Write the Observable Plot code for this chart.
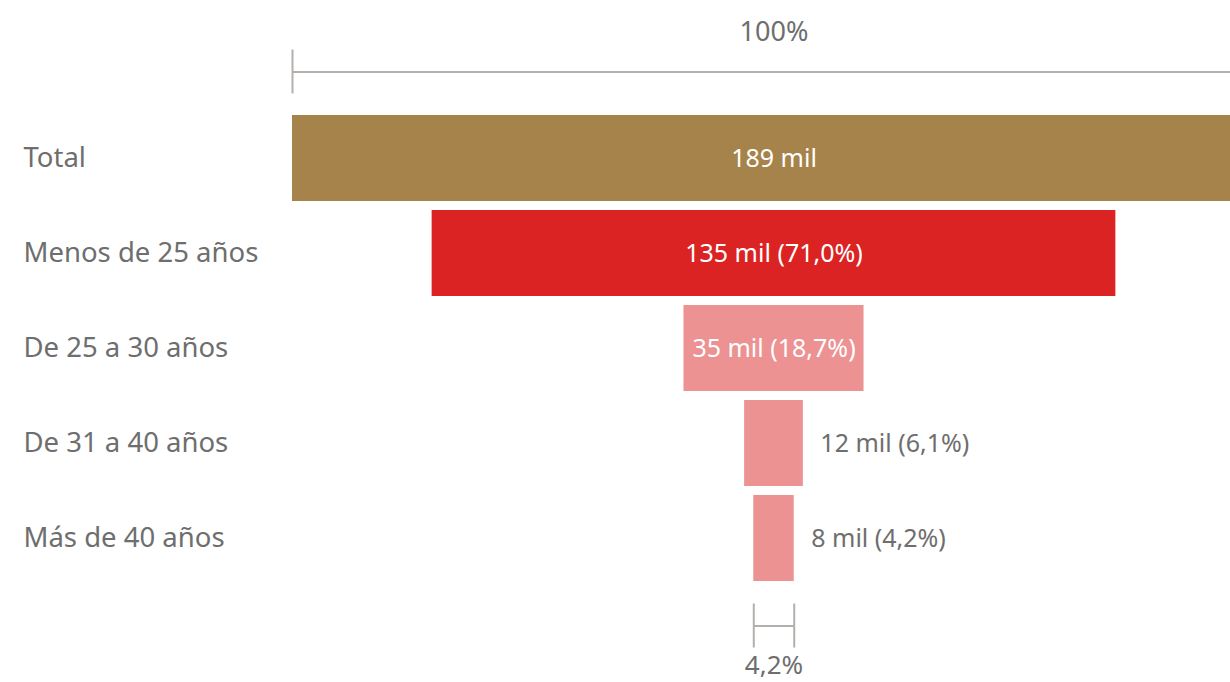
<!DOCTYPE html>
<html>
<head>
<meta charset="utf-8">
<script src="https://cdn.jsdelivr.net/npm/d3@7"></script>
<script src="https://cdn.jsdelivr.net/npm/@observablehq/plot@0.6"></script>
<style>
  html, body { margin: 0; padding: 0; background: #fff; overflow: hidden; }
  #chart svg { display: block; overflow: hidden; }
</style>
</head>
<body>
<div id="chart"></div>
<script>
const categories = ["Total", "Menos de 25 años", "De 25 a 30 años", "De 31 a 40 años", "Más de 40 años"];
const valuesMil = [189, 135, 35, 12, 8];
const percents = [100, 71.0, 18.7, 6.1, 4.2];
const colors = ["#A6834A", "#DB2323", "#EC9292", "#EC9292", "#EC9292"];
const topLabel = "100%";
const bottomLabel = "4,2%";

const fmtPct = p => p.toFixed(1).replace(".", ",") + "%";
const data = categories.map((c, i) => ({
  cat: c,
  value: valuesMil[i],
  pct: percents[i],
  color: colors[i],
  label: i === 0 ? `${valuesMil[i]} mil` : `${valuesMil[i]} mil (${fmtPct(percents[i])})`,
  inside: percents[i] > 15
}));
const last = data[data.length - 1];
const font = "'Noto Sans', 'Open Sans', sans-serif";
const gray = "#6e6e6e";
const lineGray = "#b3b0ac";

const chart = Plot.plot({
  width: 1230,
  height: 682,
  marginLeft: 23,
  marginRight: 0,
  marginTop: 0,
  marginBottom: 0,
  style: { fontFamily: font, background: "#fff" },
  x: { domain: [-0.5, 0.5], range: [292, 1255], axis: null },
  y: { type: "band", domain: categories, range: [104.5, 590.3], padding: 0.1, axis: null },
  marks: [
    Plot.barX(data, { y: "cat", x1: d => -d.pct / 200, x2: d => d.pct / 200, fill: "color" }),
    // category labels
    Plot.text(data, { y: "cat", text: "cat", frameAnchor: "left", textAnchor: "start", fontSize: 27.5, fill: gray }),
    // labels inside bars
    Plot.text(data.filter(d => d.inside), { y: "cat", x: () => 0, text: "label", fontSize: 25, fill: "#fff" }),
    // labels outside bars
    Plot.text(data.filter(d => !d.inside), { y: "cat", x: d => d.pct / 200, dx: 17, text: "label", textAnchor: "start", fontSize: 25, fill: gray }),
    // top bracket (100%)
    Plot.ruleY([data[0]], { y: "cat", x1: d => -d.pct / 200, x2: d => d.pct / 200, dy: -86.5, stroke: lineGray, strokeWidth: 2 }),
    Plot.tickX([data[0]], { y: "cat", x: d => -d.pct / 200, dy: -86.5, insetTop: 21, insetBottom: 21, stroke: lineGray, strokeWidth: 2 }),
    Plot.text([data[0]], { y: "cat", x: () => 0, dy: -126, text: () => topLabel, fontSize: 27, fill: gray }),
    // bottom bracket (4,2%)
    Plot.ruleY([last], { y: "cat", x1: d => -d.pct / 200, x2: d => d.pct / 200, dy: 87.5, stroke: lineGray, strokeWidth: 2 }),
    Plot.tickX([last, last], { y: "cat", x: (d, i) => (i === 0 ? -1 : 1) * d.pct / 200, dy: 87.5, insetTop: 21, insetBottom: 21, stroke: lineGray, strokeWidth: 2 }),
    Plot.text([last], { y: "cat", x: () => 0, dy: 127, text: () => bottomLabel, fontSize: 26, fill: gray })
  ]
});
document.getElementById("chart").appendChild(chart);
</script>
</body>
</html>
